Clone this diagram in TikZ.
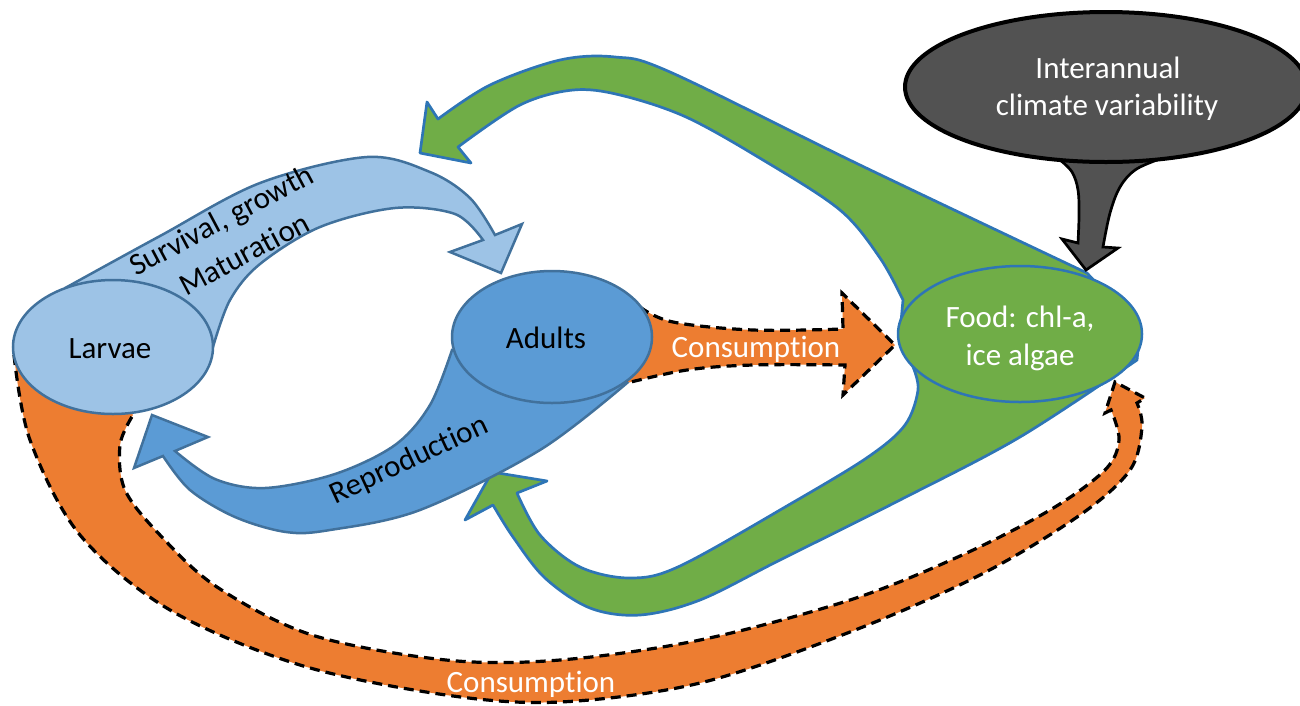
\documentclass[tikz,border=0pt]{standalone}
\usepackage{fontspec}
\setmainfont[Ligatures={NoCommon,NoContextual},RawFeature={-liga;-clig;-dlig}]{Carlito}
\usetikzlibrary{shapes.geometric}
\definecolor{lblue}{HTML}{9DC3E6}
\definecolor{mblue}{HTML}{5B9BD5}
\definecolor{bstroke}{HTML}{41719C}
\definecolor{gfill}{HTML}{70AD47}
\definecolor{gstroke}{HTML}{2E75B6}
\definecolor{ofill}{HTML}{ED7D31}
\definecolor{dgray}{HTML}{525252}
\begin{document}
\begin{tikzpicture}[x=1pt,y=-1pt,
  txt/.style={font=\fontsize{31}{37.5}\selectfont, inner sep=0pt},
  wtxt/.style={txt, text=white},
  blob/.style={ellipse, inner sep=0pt, line width=2.5pt},
  greenshape/.style={fill=gfill, draw=gstroke, line width=2.7pt, line join=round},
  orangeshape/.style={fill=ofill, draw=black, line width=3.2pt, dash pattern=on 10pt off 6pt, line join=miter},
  lblueshape/.style={fill=lblue, draw=bstroke, line width=2.5pt, line join=miter},
  mblueshape/.style={fill=mblue, draw=bstroke, line width=2.5pt, line join=miter},
  grayshape/.style={fill=dgray, draw=black, line width=2.7pt, line join=miter}
]
\useasboundingbox (0,0) rectangle (1300,705);
\clip (0,0) rectangle (1300,705);

% green feedback arrows from food
\path[greenshape] (420,153) -- (427,102) -- (438,119)
  -- plot[smooth, tension=0.55] coordinates {(438,119) (490,85) (560,60) (615,57) (670,72) (860,165) (1087,273)}
  -- (1140,330) -- (1137,360)
  -- plot[smooth, tension=0.55] coordinates {(1137,360) (1020,437) (900,500) (780,560) (700,600) (640,615) (590,608) (545,578) (513,537) (493,505)}
  -- (465,520) -- (492,472) -- (547,481) -- (517,493)
  -- plot[smooth, tension=0.55] coordinates {(517,493) (540,535) (580,567) (630,578) (680,566) (792,503) (868,457) (905,425) (918,390) (913,367)}
  -- (900,333)
  -- plot[smooth, tension=0.55] coordinates {(903,300) (880,258) (840,210) (763,160) (686,117) (620,95) (573,90) (520,105) (458,147)}
  -- (471,163) -- cycle;

% bottom consumption arrow (larvae -> food)
\path[orangeshape] plot[smooth, tension=0.55] coordinates {(14,355) (30,440) (80,535) (170,610) (300,665) (446,695) (560,702) (700,683) (850,632) (980,575) (1080,515) (1130,470) (1142,427) (1137,403)}
  -- (1145,398) -- (1115,382) -- (1105,413) -- (1111,410)
  -- plot[smooth, tension=0.55] coordinates {(1111,410) (1119,440) (1105,470) (1050,510) (960,556) (850,600) (700,640) (560,660) (446,660) (312,635) (217,587) (160,535) (125,490) (120,445) (133,415)}
  -- (100,380) -- cycle;

% top consumption arrow (adults -> food)
\path[orangeshape] plot[smooth, tension=0.6] coordinates {(640,307) (673,322) (753,330) (843,329)}
  -- (842,293) -- (895,345) -- (843,395) -- (845,365)
  -- plot[smooth, tension=0.6] coordinates {(845,365) (753,365) (687,370) (627,383)}
  -- (600,340) -- cycle;

% survival / growth arrow
\path[lblueshape] plot[smooth, tension=0.55] coordinates {(67,287) (160,236) (260,183) (367,157) (430,172) (470,198) (495,235)}
  -- (522,224) -- (501,273) -- (450,252) -- (483,240)
  -- plot[smooth, tension=0.55] coordinates {(483,240) (455,214) (395,208) (320,227) (260,264) (230,300) (213,347)}
  -- cycle;

% reproduction arrow
\path[mblueshape] (152,415) -- (208,437) -- (175,451)
  -- plot[smooth, tension=0.55] coordinates {(175,451) (215,479) (265,488) (335,474) (395,445) (430,405) (452,350)}
  -- (560,360) -- (627,383)
  -- plot[smooth, tension=0.55] coordinates {(627,383) (540,450) (420,510) (330,530) (286,532) (235,517) (190,490) (163,456)}
  -- (134,468) -- cycle;

% climate arrow
\path[grayshape] plot[smooth, tension=0.6] coordinates {(1060,160) (1072,172) (1078,190) (1079,215) (1078,243)}
  -- (1062,239) -- (1086,270) -- (1118,248) -- (1103,247)
  -- plot[smooth, tension=0.6] coordinates {(1103,247) (1110,213) (1120,187) (1135,170) (1157,160)}
  -- cycle;

% ellipses
\node[blob, fill=lblue, draw=bstroke, minimum width=200pt, minimum height=134pt] (larvae) at (113,347) {};
\node[blob, fill=mblue, draw=bstroke, minimum width=200pt, minimum height=132pt] (adults) at (552,337) {};
\node[blob, fill=gfill, draw=gstroke, minimum width=244pt, minimum height=136pt] (food) at (1020,334) {};
\node[ellipse, inner sep=0pt, fill=dgray, draw=black, line width=4pt, minimum width=402pt, minimum height=150pt] (climate) at (1106,87) {};

% texts
\node[txt, anchor=base] (tlarvae) at (110,358) {Larvae};
\node[txt, anchor=base] (tadults) at (546,348) {Adults};
\node[txt, anchor=base, rotate=28] (tsurv) at (226,229) {Survival, growth};
\node[txt, anchor=base, rotate=28] (tmat) at (249,263) {Maturation};
\node[txt, anchor=base, rotate=25] (trepro) at (413,468) {Reproduction};
\node[wtxt, anchor=base] (tcons1) at (756,357) {Consumption};
\node[wtxt, anchor=base] (tcons2) at (531,692) {Consumption};
\node[wtxt, anchor=base] (tfood1) at (1020,327) {Food: chl-a,};
\node[wtxt, anchor=base] (tfood2) at (1020,365) {ice algae};
\node[wtxt, anchor=base] (tclim1) at (1108,78) {Interannual};
\node[wtxt, anchor=base] (tclim2) at (1107,115) {climate variability};
\end{tikzpicture}
\end{document}
